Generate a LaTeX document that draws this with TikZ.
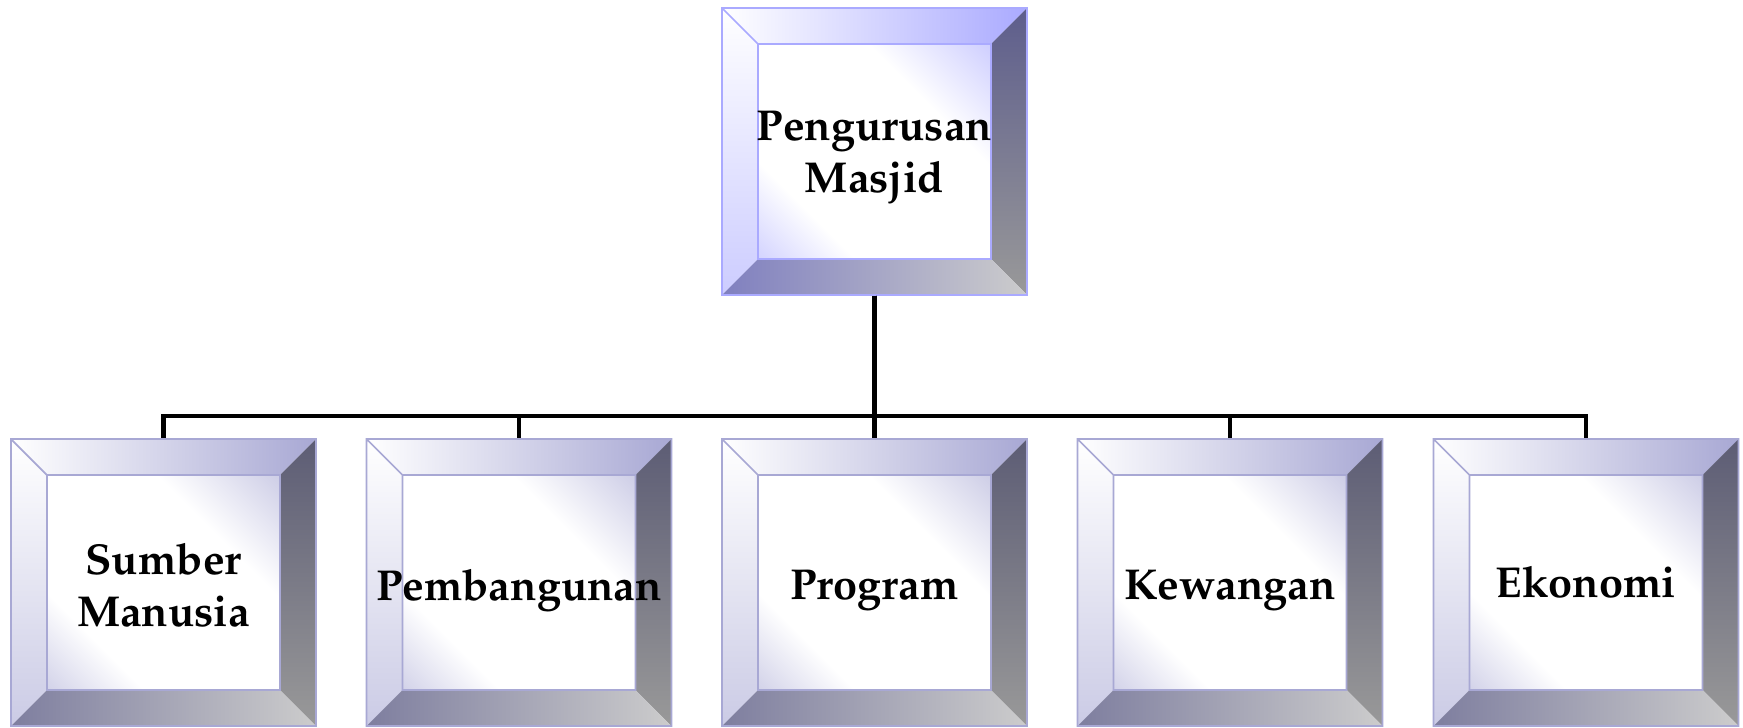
\documentclass[tikz,border=0pt]{standalone}
\usepackage[T1]{fontenc}
\usepackage{mathpazo}
\usetikzlibrary{backgrounds}
\definecolor{topblue}{RGB}{170,170,255}
\definecolor{boxlav}{RGB}{168,168,212}
\pgfdeclareverticalshading{face-topblue}{100bp}{color(0bp)=(topblue); color(30bp)=(white); color(66bp)=(white); color(100bp)=(topblue)}
\pgfdeclareverticalshading{face-boxlav}{100bp}{color(0bp)=(boxlav); color(30bp)=(white); color(66bp)=(white); color(100bp)=(boxlav)}
% bevelled box round node #1, #2 = base colour
\newcommand{\bevelface}[2]{%
  \begin{scope}[shift={(#1.center)}]
    \def\a{1.525}\def\b{1.435}\def\ai{1.165}\def\bi{1.075}
    \shade[shading=face-#2, shading angle=-45] (-\ai,-\bi) rectangle (\ai,\bi);
    \shade[left color=white, right color=#2] (-\a,\b) -- (\a,\b) -- (\ai,\bi) -- (-\ai,\bi) -- cycle;
    \shade[top color=white, bottom color=#2!60] (-\a,\b) -- (-\ai,\bi) -- (-\ai,-\bi) -- (-\a,-\b) -- cycle;
    \shade[top color=#2!55!black, bottom color=black!40] (\a,\b) -- (\a,-\b) -- (\ai,-\bi) -- (\ai,\bi) -- cycle;
    \shade[left color=#2!75!black, right color=black!20] (-\a,-\b) -- (\a,-\b) -- (\ai,-\bi) -- (-\ai,-\bi) -- cycle;
    \draw[#2, line width=0.5pt] (-\a,-\b) rectangle (\a,\b) (-\ai,-\bi) rectangle (\ai,\bi) (-\a,\b) -- (-\ai,\bi);
  \end{scope}}
\tikzset{
  bevelbox/.style={rectangle, minimum width=3.05cm, minimum height=2.87cm},
  boxtext/.style={align=center, font=\fontsize{12.3}{14.8}\selectfont\bfseries},
  link/.style={line width=1.2pt}
}
\begin{document}
\begin{tikzpicture}
  \useasboundingbox (0,0) rectangle (17.43,-7.27);
  \node[bevelbox] (top) at (8.745,-1.515) {};
  \node[boxtext] (top-t) at ([yshift=-0.06cm]top.center) {Pengurusan\\Masjid};
  \foreach \n/\x/\dy/\t in {sm/1.635/-0.03/{Sumber\\Manusia},pb/5.19/-0.08/Pembangunan,pg/8.745/-0.08/Program,kw/12.30/-0.08/Kewangan,ek/15.86/0/Ekonomi}
  {
    \node[bevelbox] (\n) at (\x,-5.825) {};
    \node[boxtext] (\n-t) at ([yshift=\dy cm]\n.center) {\t};
  }
  \begin{scope}[on background layer]
    \foreach \n/\c in {top/topblue,sm/boxlav,pb/boxlav,pg/boxlav,kw/boxlav,ek/boxlav}
      \bevelface{\n}{\c};
  \end{scope}
  \coordinate (bar) at (0,-4.16);
  \foreach \n in {sm,pb,pg,kw,ek}
  {
    \draw[link] (top.south) |- (\n.north |- bar) -- (\n.north);
  }
\end{tikzpicture}
\end{document}
